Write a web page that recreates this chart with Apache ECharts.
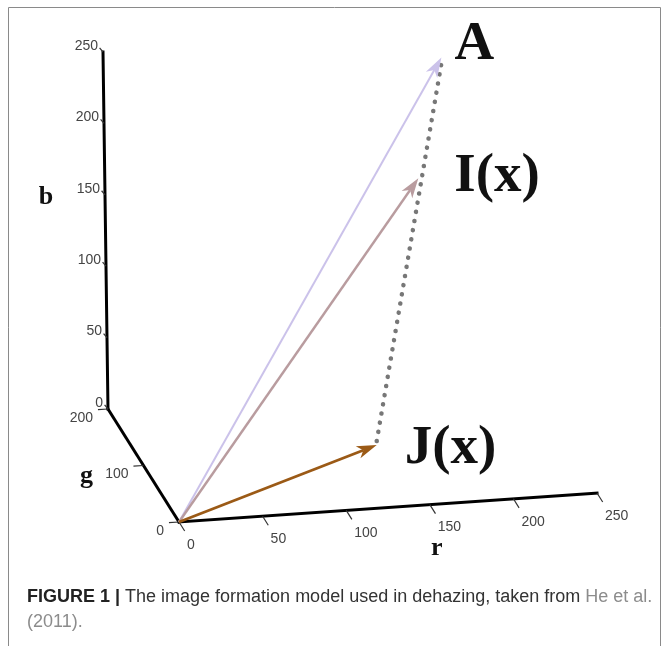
<!DOCTYPE html>
<html><head><meta charset="utf-8">
<script src="https://cdn.jsdelivr.net/npm/echarts@6/dist/echarts.min.js"></script>
<style>html,body{margin:0;padding:0;background:#fff}#c{width:668px;height:646px}</style>
</head><body><div id="c"></div>
<script>
// ---------- data (values in RGB space) ----------
const vectorNames = ['A', 'I(x)', 'J(x)'];
const vectorR = [198, 177, 136];
const vectorG = [180, 150, 83];
const vectorB = [238, 167, 10];
const rTicks = [0, 50, 100, 150, 200, 250];
const gTicks = [0, 100, 200];
const bTicks = [0, 50, 100, 150, 200, 250];
const axisNames = ['r', 'g', 'b'];
const rMax = 250, gMax = 200, bMax = 250;
const captionBold = 'FIGURE 1 |';
const captionText = ' The image formation model used in dehazing, taken from ';
const captionRef = 'He et al.';
const captionYear = '(2011).';

// ---------- view (oblique projection of the RGB cube onto the plane) ----------
const VIEW = { r: [1.672, 0.116], g: [-0.355, 0.565], b: [-0.02, 1.428] };
function proj(r, g, b) {
  return [r * VIEW.r[0] + g * VIEW.g[0] + b * VIEW.b[0],
          r * VIEW.r[1] + g * VIEW.g[1] + b * VIEW.b[1]];
}
function P(api, r, g, b) { return api.coord(proj(r, g, b)); }

// ---------- styles ----------
const vectorColors = ['#cbc2ea', '#b99c9f', '#9b5a16'];
const vectorWidths = [2, 2.4, 2.8];
const vectorLabelOffset = [[13, -13], [36, -1], [28, 4]];
const tickFont = { fontFamily: 'Liberation Sans', fontSize: 14, fill: '#444' };
const nameFont = { fontFamily: 'Liberation Serif', fontWeight: 'bold', fontSize: 26, fill: '#111' };

// axis segments built from the data ranges
const axisSegments = [
  [0, 0, 0, rMax, 0, 0],
  [0, 0, 0, 0, gMax, 0],
  [0, gMax, 0, 0, gMax, bMax]
];
const tickSegments = []
  .concat(rTicks.map(v => [v, 0, 0, v, -16, 0]))
  .concat(gTicks.map(v => [0, v, 0, -6, v, 0]))
  .concat(bTicks.map(v => [0, gMax, v, -2, gMax, v + 3]));

const tickLabels = []
  .concat(rTicks.map(v => ({ p: [v, 0, 0], t: String(v), k: 'r' })))
  .concat(gTicks.map(v => ({ p: [0, v, 0], t: String(v), k: 'g' })))
  .concat(bTicks.map(v => ({ p: [0, gMax, v], t: String(v), k: 'b' })));
const tickLabelStyle = {
  r: { dx: 8, dy: 23, align: 'left' },
  g: { dx: -15, dy: 9, align: 'right' },
  b: { dx: -5, dy: -6, align: 'right' }
};
const axisNameAnchor = { r: [150, 0, 0], g: [0, 100, 0], b: [0, gMax, 150] };
const axisNameOffset = { r: [7, 44], g: [-57, 11], b: [-59, 2] };

const chart = echarts.init(document.getElementById('c'), null, { renderer: 'canvas' });

function segRender(style) {
  return function (params, api) {
    const s = P(api, api.value(0), api.value(1), api.value(2));
    const e = P(api, api.value(3), api.value(4), api.value(5));
    return { type: 'line', shape: { x1: s[0], y1: s[1], x2: e[0], y2: e[1] }, style: style };
  };
}

const option = {
  animation: false,
  backgroundColor: '#fff',
  grid: { left: 0, right: 0, top: 0, bottom: 0 },
  xAxis: { type: 'value', min: -179, max: 489, show: false },
  yAxis: { type: 'value', min: -124, max: 522, show: false },
  graphic: [
    { type: 'rect', silent: true, shape: { x: 8.5, y: 7.5, width: 652, height: 660 },
      style: { fill: 'none', stroke: '#8a8a8a', lineWidth: 1 } },
    { type: 'text', left: 27, top: 585, silent: true,
      style: {
        text: '{b|' + captionBold + '}{n|' + captionText + '}{l|' + captionRef + '}\n{l|' + captionYear + '}',
        lineHeight: 25,
        rich: {
          b: { fontFamily: 'Liberation Sans', fontWeight: 'bold', fontSize: 18, fill: '#222', lineHeight: 25 },
          n: { fontFamily: 'Liberation Sans', fontSize: 18, fill: '#333', lineHeight: 25 },
          l: { fontFamily: 'Liberation Sans', fontSize: 18, fill: '#8c8c8c', lineHeight: 25 }
        }
      } }
  ],
  series: [
    { type: 'custom', silent: true, z: 2, data: axisSegments,
      renderItem: segRender({ stroke: '#000', lineWidth: 3, lineCap: 'square' }) },
    { type: 'custom', silent: true, z: 2, data: tickSegments,
      renderItem: segRender({ stroke: '#333', lineWidth: 1.2 }) },
    { type: 'custom', silent: true, z: 3, data: tickLabels.map((d, i) => i),
      renderItem: function (params, api) {
        const d = tickLabels[params.dataIndex];
        const c = P(api, d.p[0], d.p[1], d.p[2]);
        const st = tickLabelStyle[d.k];
        return { type: 'text', x: c[0] + st.dx, y: c[1] + st.dy,
          style: Object.assign({ text: d.t, align: st.align, verticalAlign: 'middle' }, tickFont) };
      } },
    { type: 'custom', silent: true, z: 3, data: axisNames.map((d, i) => i),
      renderItem: function (params, api) {
        const k = axisNames[params.dataIndex];
        const a = axisNameAnchor[k];
        const c = P(api, a[0], a[1], a[2]);
        const o = axisNameOffset[k];
        return { type: 'text', x: c[0] + o[0], y: c[1] + o[1],
          style: Object.assign({ text: k, align: 'center', verticalAlign: 'middle' }, nameFont) };
      } },
    // dotted line J(x) -> A
    { type: 'custom', silent: true, z: 4, data: [[2, 0]],
      renderItem: function (params, api) {
        const i = api.value(0), j = api.value(1);
        const s = P(api, vectorR[i], vectorG[i], vectorB[i]);
        const e = P(api, vectorR[j], vectorG[j], vectorB[j]);
        return { type: 'line', shape: { x1: s[0], y1: s[1] - 4, x2: e[0], y2: e[1] + 6 },
          style: { stroke: '#777', lineWidth: 4.5, lineDash: [0.1, 9.2], lineCap: 'round' } };
      } },
    // vectors from origin
    { type: 'custom', silent: true, z: 5, data: vectorNames.map((d, i) => i),
      renderItem: function (params, api) {
        const i = params.dataIndex;
        const s = P(api, 0, 0, 0);
        const e = P(api, vectorR[i], vectorG[i], vectorB[i]);
        const dx = e[0] - s[0], dy = e[1] - s[1], L = Math.hypot(dx, dy);
        const ux = dx / L, uy = dy / L, nx = -uy, ny = ux;
        const hl = 20, hw = 6.5;
        const bx = e[0] - ux * hl, by = e[1] - uy * hl;
        const nxp = e[0] - ux * hl * 0.72, nyp = e[1] - uy * hl * 0.72;
        const col = vectorColors[i];
        const o = vectorLabelOffset[i];
        return { type: 'group', children: [
          { type: 'line', shape: { x1: s[0], y1: s[1], x2: nxp, y2: nyp },
            style: { stroke: col, lineWidth: vectorWidths[i] } },
          { type: 'polygon', shape: { points: [[e[0], e[1]], [bx + nx * hw, by + ny * hw], [nxp, nyp], [bx - nx * hw, by - ny * hw]] },
            style: { fill: col } },
          { type: 'text', x: e[0] + o[0], y: e[1] + o[1],
            style: { text: vectorNames[i], fontFamily: 'Liberation Serif', fontWeight: 'bold', fontSize: 55,
              fill: '#111', align: 'left', verticalAlign: 'middle' } }
        ] };
      } }
  ]
};
chart.setOption(option);
</script>
</body></html>
